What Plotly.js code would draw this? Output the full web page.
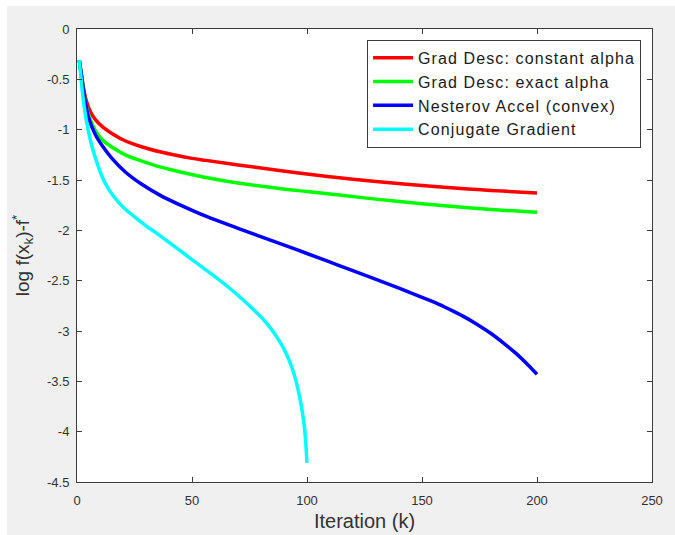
<!DOCTYPE html>
<html>
<head>
<meta charset="utf-8">
<script src="https://cdn.plot.ly/plotly-3.0.1.min.js"></script>
<style>
  html, body { margin: 0; padding: 0; background: #ffffff; }
  #chart { position: absolute; left: 7px; top: 6px; width: 668px; height: 529px; }
  .legendtext { letter-spacing: 1.1px; }
</style>
</head>
<body>
<div id="chart"></div>
<script>
// Data
const seriesNames = ["Grad Desc: constant alpha", "Grad Desc: exact alpha", "Nesterov Accel (convex)", "Conjugate Gradient"];

const kConst = [1,2,3,4,6,8,11,14,20,28,36,43,50,56,70,88,100,115,130,150,170,185,200];
const gdConst = [-0.31,-0.47,-0.61,-0.71,-0.83,-0.90,-0.97,-1.02,-1.10,-1.17,-1.22,-1.255,-1.285,-1.305,-1.35,-1.405,-1.44,-1.48,-1.515,-1.555,-1.59,-1.61,-1.63];

const kExact = [1,2,3,4,5,8,11,15,21,28,36,45,56,70,88,100,114,132,150,170,185,200];
const gdExact = [-0.31,-0.47,-0.64,-0.76,-0.85,-1.01,-1.10,-1.17,-1.25,-1.31,-1.37,-1.42,-1.475,-1.53,-1.585,-1.615,-1.65,-1.695,-1.735,-1.775,-1.80,-1.82];

const kNest = [1,2,3,4,5,8,11,15,21,28,36,45,56,70,88,100,114,128,140,150,156,162,168,174,180,186,191,196,200];
const nesterov = [-0.31,-0.47,-0.64,-0.77,-0.88,-1.05,-1.16,-1.28,-1.42,-1.54,-1.65,-1.75,-1.86,-1.98,-2.13,-2.23,-2.35,-2.47,-2.575,-2.665,-2.72,-2.785,-2.855,-2.935,-3.025,-3.13,-3.225,-3.335,-3.43];

const kCG = [1,2,3,4,6,8,11,14,18,21,25,30,35,40,45,50,55,60,65,70,75,80,83,86,88,90,92,94,96,97,98,99,100];
const conjGrad = [-0.31,-0.55,-0.75,-0.90,-1.12,-1.28,-1.47,-1.60,-1.72,-1.79,-1.865,-1.955,-2.035,-2.12,-2.205,-2.29,-2.375,-2.46,-2.55,-2.645,-2.75,-2.86,-2.94,-3.03,-3.10,-3.18,-3.28,-3.40,-3.57,-3.68,-3.81,-3.98,-4.31];

const xTickVals = [0,50,100,150,200,250];
const xTickText = ["0","50","100","150","200","250"];
const yTickVals = [0,-0.5,-1,-1.5,-2,-2.5,-3,-3.5,-4,-4.5];
const yTickText = ["0","-0.5","-1","-1.5","-2","-2.5","-3","-3.5","-4","-4.5"];

const colors = ["#ff0000", "#00ff00", "#0000ff", "#00ffff"];
const xs = [kConst, kExact, kNest, kCG];
const ys = [gdConst, gdExact, nesterov, conjGrad];

const traces = seriesNames.map((name, i) => ({
  type: "scatter",
  mode: "lines",
  name: name,
  x: xs[i],
  y: ys[i],
  line: { color: colors[i], width: 3.5, shape: "spline", smoothing: 1 },
  hoverinfo: "skip"
}));

const axisCommon = {
  showgrid: false,
  zeroline: false,
  showline: true,
  linecolor: "#3c3c3c",
  linewidth: 1,
  mirror: "ticks",
  ticks: "inside",
  ticklen: 5,
  tickwidth: 1,
  tickcolor: "#3c3c3c",
  tickmode: "array",
  tickfont: { family: "Liberation Sans, Arial, sans-serif", size: 13, color: "#333333" },
  fixedrange: true
};

const layout = {
  width: 668,
  height: 529,
  paper_bgcolor: "#f0f0f0",
  plot_bgcolor: "#ffffff",
  margin: { l: 70, r: 23, t: 23, b: 53 },
  showlegend: true,
  xaxis: Object.assign({}, axisCommon, {
    range: [0, 250],
    tickvals: xTickVals,
    ticktext: xTickText,
    ticklabelstandoff: 6,
    title: { text: "Iteration (k)", font: { family: "Liberation Sans, Arial, sans-serif", size: 20, color: "#333333" }, standoff: 7 }
  }),
  yaxis: Object.assign({}, axisCommon, {
    range: [-4.5, 0],
    tickvals: yTickVals,
    ticktext: yTickText,
    ticklabelstandoff: 4,
    title: { text: "log f(x<sub>k</sub>)-f<sup>*</sup>", font: { family: "Liberation Sans, Arial, sans-serif", size: 19, color: "#333333" }, standoff: 12 }
  }),
  legend: {
    x: 0.981,
    y: 0.976,
    xanchor: "right",
    yanchor: "top",
    bgcolor: "#ffffff",
    bordercolor: "#3c3c3c",
    borderwidth: 1,
    itemwidth: 40,
    font: { family: "Liberation Sans, Arial, sans-serif", size: 16, color: "#1a1a1a" }
  }
};

Plotly.newPlot("chart", traces, layout, { displayModeBar: false, staticPlot: true });
</script>
</body>
</html>
